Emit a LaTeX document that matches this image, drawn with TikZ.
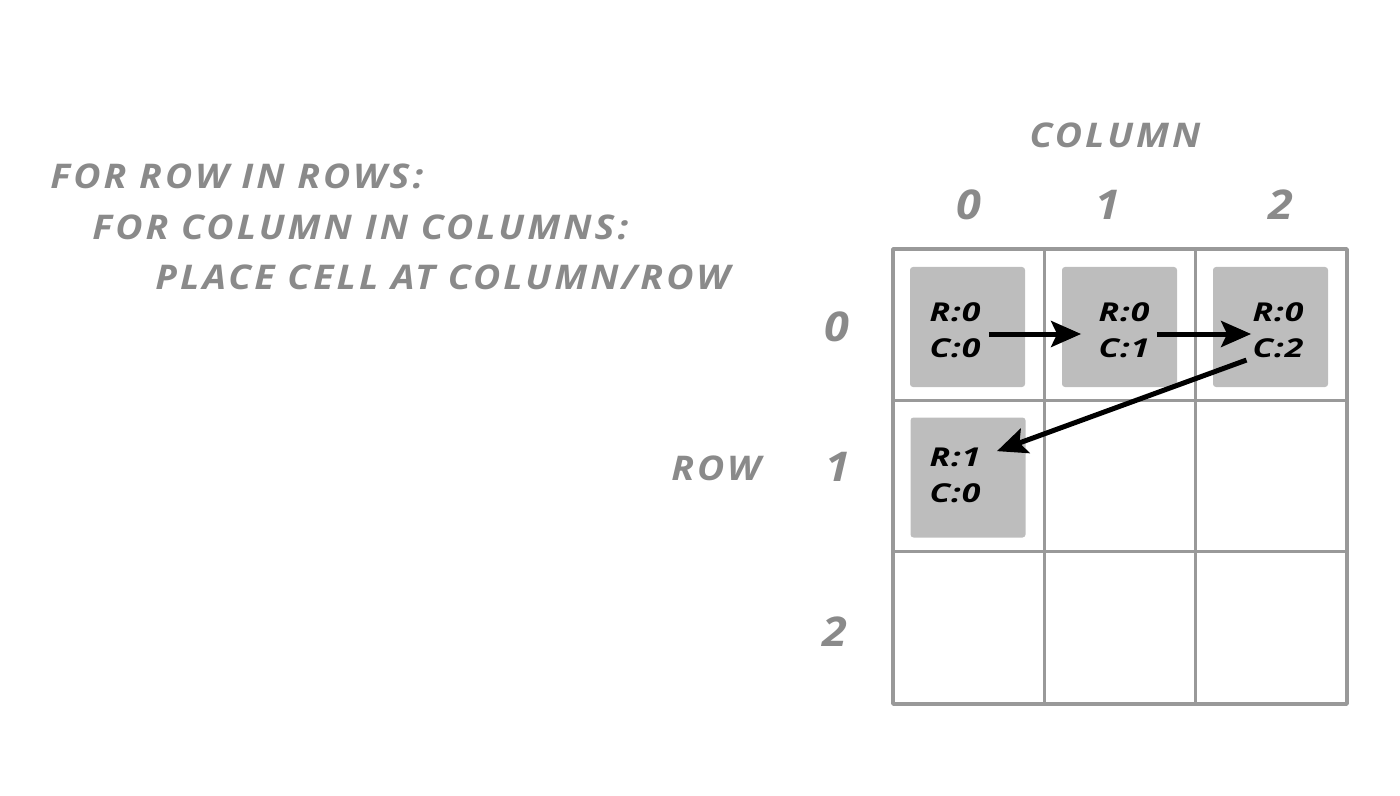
\documentclass[tikz,border=0pt]{standalone}
\usepackage{fontspec}
\setmainfont{Open Sans}
\newfontfamily\sketchfont[LetterSpace=9,FakeStretch=1.1]{Open Sans}
\newfontfamily\cellfont[LetterSpace=4,FakeStretch=1.3]{Open Sans}
\usetikzlibrary{arrows.meta,positioning}
\definecolor{chalk}{HTML}{8A8A8A}
\definecolor{cellfill}{HTML}{BDBDBD}
\definecolor{gridline}{HTML}{999999}
\tikzset{
	hand/.style={text=chalk, inner sep=0pt, font=\sketchfont\bfseries\itshape\fontsize{17}{20}\selectfont},
	idx/.style={text=chalk, inner sep=0pt, font=\sketchfont\bfseries\itshape\fontsize{20.5}{24}\selectfont},
	cellbox/.style={fill=cellfill, rounded corners=1.5pt, minimum width=57.5pt, minimum height=60pt, inner sep=0pt},
	celltext/.style={align=left, inner sep=0pt, font=\cellfont\bfseries\itshape\fontsize{13}{18}\selectfont},
	move/.style={-{Stealth[length=15pt,width=13pt,inset=3pt]}, line width=2.5pt}
}
\begin{document}
\begin{tikzpicture}[x=0.5pt, y=-0.5pt, line join=round]
	\useasboundingbox (0,0) rectangle (1400,796);
	\def\gx{893} \def\gy{249} \def\gs{151.3} % Gitter
	% Pseudocode
	\node[hand, anchor=west] (loopa) at (50,176) {FOR ROW IN ROWS:};
	\node[hand, anchor=west] (loopb) at (92,227) {FOR COLUMN IN COLUMNS:};
	\node[hand, anchor=west] (loopc) at (155,277) {PLACE CELL AT COLUMN/ROW};
	% Achsen
	\node[hand] (coltitle) at (1115,135) {COLUMN};
	\node[hand] (rowtitle) at (716,468) {ROW};
	\node[idx] (col0) at (969,205) {0};
	\node[idx] (col1) at (1108,205) {1};
	\node[idx] (col2) at (1281,205) {2};
	\node[idx] (row0) at (837,327) {0};
	\node[idx] (row1) at (838,467) {1};
	\node[idx] (row2) at (835,632) {2};
	% Gitter
	\draw[gridline, line width=1.75pt] (\gx,\gy) rectangle (1347,704);
	\foreach \i in {1,2} {
		\draw[gridline, line width=1.75pt] (\gx+\i*\gs,\gy) -- (\gx+\i*\gs,704);
		\draw[gridline, line width=1.75pt] (\gx,\gy+\i*\gs) -- (1347,\gy+\i*\gs);
	}
	% Zellen
	\node[cellbox] (c00) at (967.5,327) {};
	\node[cellbox] (c01) at (1119.5,327) {};
	\node[cellbox] (c02) at (1270.5,327) {};
	\node[cellbox] (c10) at (968,477.5) {};
	\node[celltext] (t00) at (955,330) {R:0\\C:0};
	\node[celltext] (t01) at (1124,330) {R:0\\C:1};
	\node[celltext] (t02) at (1278,330) {R:0\\C:2};
	\node[celltext] (t10) at (955,475) {R:1\\C:0};
	% Reihenfolge
	\draw[move, shorten <=4pt, shorten >=8.5pt] ([yshift=-2pt]t00.east) -- ([yshift=-2pt]t01.west);
	\draw[move, shorten <=3.5pt, shorten >=0.5pt] ([yshift=-2pt]t01.east) -- ([yshift=-2pt]t02.west);
	\draw[move, shorten <=3pt, shorten >=0pt] (t02.south west) -- ([xshift=8pt,yshift=-2pt]t10.north east);
\end{tikzpicture}
\end{document}
